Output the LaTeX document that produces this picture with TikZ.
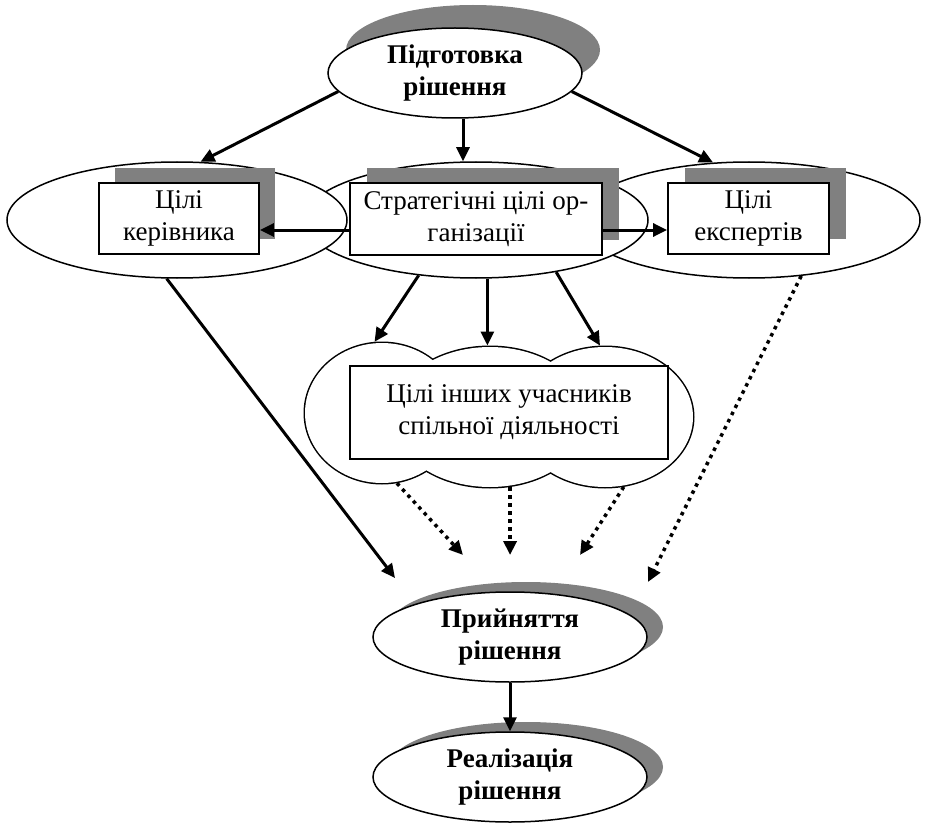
\documentclass[tikz,border=0pt]{standalone}
\usepackage{fontspec}
\setmainfont{Liberation Serif}
\usetikzlibrary{shapes.geometric,arrows.meta}
\definecolor{shadowgray}{HTML}{808080}

\begin{document}
\begin{tikzpicture}[x=1pt,y=-1pt,
  lbl/.style={font=\fontsize{27}{32}\selectfont, align=center},
  boldlbl/.style={font=\fontsize{27}{32}\selectfont\bfseries, align=center},
  oval/.style={ellipse, draw, fill=white, line width=1.5pt, inner sep=0pt},
  ovalshadow/.style={ellipse, fill=shadowgray, inner sep=0pt},
  goalbox/.style={rectangle, draw, fill=white, line width=1.8pt, inner sep=0pt, lbl},
  boxshadow/.style={rectangle, fill=shadowgray, inner sep=0pt},
  arr/.style={line width=3pt, -{Triangle[length=14pt,width=13pt]}},
  dotarr/.style={arr, line width=3.5pt, dash pattern=on 3.5pt off 4.5pt},
  lobe/.style={ellipse, inner sep=0pt, minimum height=140pt}]
\useasboundingbox (0,0) rectangle (927,824);

% decision preparation
\node[ovalshadow, minimum width=254pt, minimum height=90pt] (prepsh) at (473,50) {};
\node[oval, boldlbl, minimum width=254pt, minimum height=90pt] (prep) at (455,73) {Підготовка\\рішення};

% three overlapping ovals of goals
\node[oval, minimum width=342pt, minimum height=116pt] (ellR) at (749,220) {};
\node[oval, minimum width=344pt, minimum height=116pt] (ellC) at (476,220) {};
\node[oval, minimum width=340pt, minimum height=116pt] (ellL) at (177,220) {};

% goal boxes with their shadows
\node[boxshadow, minimum width=160pt, minimum height=71pt] (bLsh) at (195,203.5) {};
\node[goalbox, minimum width=160pt, minimum height=71pt] (bL) at (179,218.5) {Цілі\\керівника};
\node[boxshadow, minimum width=252pt, minimum height=72pt] (bCsh) at (493,204) {};
\node[goalbox, minimum width=252pt, minimum height=72pt] (bC) at (476,219) {Стратегічні цілі ор-\\ганізації};
\node[boxshadow, minimum width=161pt, minimum height=71pt] (bRsh) at (765,203.5) {};
\node[goalbox, minimum width=161pt, minimum height=71pt] (bR) at (748.5,218.5) {Цілі\\експертів};

% cloud of the other participants: thick outlines, then white fill
\node[lobe, draw, line width=3pt, minimum width=154pt] (lobeL) at (382,413) {};
\node[lobe, draw, line width=3pt, minimum width=196pt] (lobeM) at (490,417) {};
\node[lobe, draw, line width=3pt, minimum width=176pt] (lobeR) at (605,417) {};
\node[lobe, fill=white, minimum width=154pt] (lobeLf) at (382,413) {};
\node[lobe, fill=white, minimum width=196pt] (lobeMf) at (490,417) {};
\node[lobe, fill=white, minimum width=176pt] (lobeRf) at (605,417) {};
\node[goalbox, minimum width=318pt, minimum height=93pt] (bO) at (509,412.5) {Цілі інших учасників\\спільної діяльності};

% decision making and implementation
\node[ovalshadow, minimum width=274pt, minimum height=90pt] (takesh) at (526,627) {};
\node[oval, boldlbl, minimum width=274pt, minimum height=90pt] (take) at (510,637) {Прийняття\\рішення};
\node[ovalshadow, minimum width=274pt, minimum height=90pt] (implsh) at (526,767) {};
\node[oval, boldlbl, minimum width=274pt, minimum height=90pt] (impl) at (510,777) {Реалізація\\рішення};

% free arrow ends above the decision oval
\coordinate (tipA) at (463,555);
\coordinate (tipB) at (510,555);
\coordinate (tipC) at (580,555);
\coordinate (tipL) at (395,578);
\coordinate (tipR) at (648,582);

% connectors
\draw[arr] (prep.189) -- (ellL.68);
\draw[arr] ([xshift=8pt]prep.south) -- ([xshift=8pt]prep.south |- ellC.north);
\draw[arr] (prep.351) -- (ellR.122);
\draw[arr] ([yshift=-11pt]bC.west) -- ([yshift=-11pt]bC.west -| bL.east);
\draw[arr] ([yshift=-11pt]bC.east) -- ([yshift=-11pt]bC.east -| bR.west);
\draw[arr] (ellC.224) -- (lobeL.96);
\draw[arr] (ellC.281) -- (ellC.281 |- lobeM.north);
\draw[arr] (ellC.327) -- (lobeR.94);
\draw[dotarr] (lobeL.282) -- (tipA);
\draw[dotarr] (lobeM.286) -- (lobeM.286 |- tipB);
\draw[dotarr] (lobeR.285) -- (tipC);
\draw[arr] (ellL.260) -- (tipL);
\draw[dotarr] (ellR.313) -- (tipR);
\draw[arr] (take.south) -- (impl.north);
\end{tikzpicture}
\end{document}
